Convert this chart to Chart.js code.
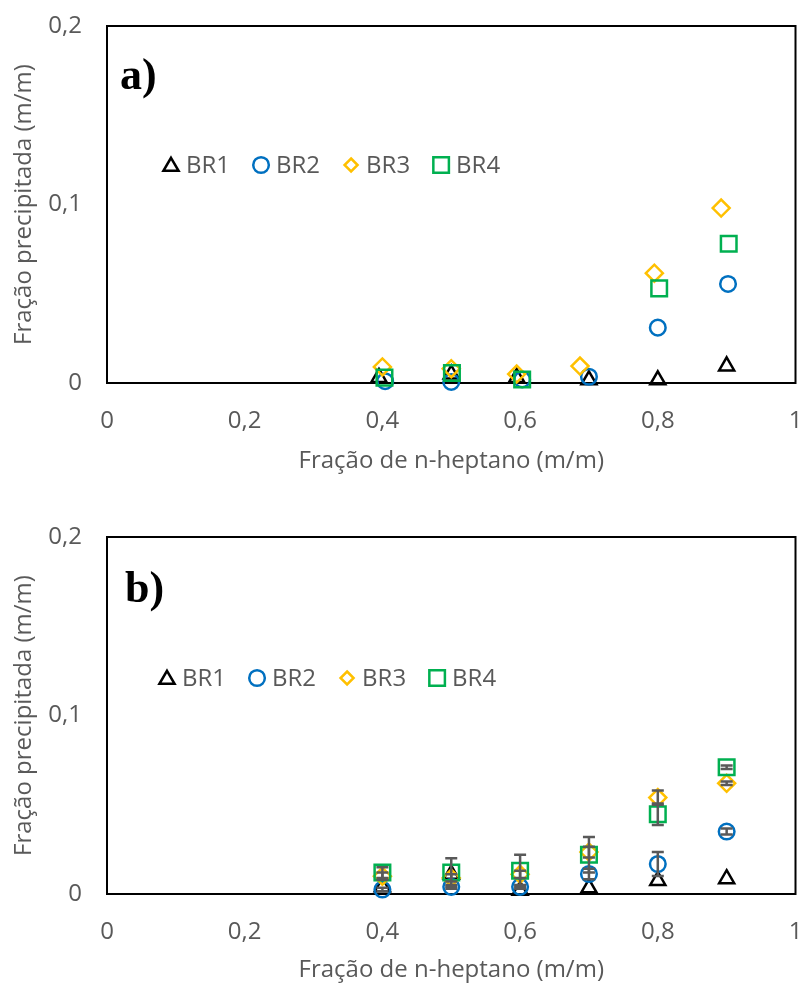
<!DOCTYPE html>
<html>
<head>
<meta charset="utf-8">
<script src="https://cdn.jsdelivr.net/npm/chart.js@4/dist/chart.umd.min.js"></script>
<style>
  html, body { margin: 0; padding: 0; background: #ffffff; }
  #wrap { position: relative; width: 809px; height: 985px; }
  .panel { position: absolute; left: 0; width: 809px; }
</style>
</head>
<body>
<div id="wrap">
  <div class="panel" style="top:0px;height:480px"><canvas id="chartA"></canvas></div>
  <div class="panel" style="top:490px;height:495px"><canvas id="chartB"></canvas></div>
</div>
<script>
// ---- data ----
const seriesNames = ['BR1', 'BR2', 'BR3', 'BR4'];
const xTickLabels = ['0', '0,2', '0,4', '0,6', '0,8', '1'];
const yTickLabels = ['0', '0,1', '0,2'];
const xTitle = 'Fração de n-heptano (m/m)';
const yTitle = 'Fração precipitada (m/m)';

// panel a) – single measurements
const aBR1x = [0.395, 0.5, 0.595, 0.7, 0.8, 0.9];
const aBR1y = [0.003, 0.005, 0.003, 0.0017, 0.0017, 0.0095];
const aBR2x = [0.404, 0.5, 0.603, 0.7, 0.8, 0.902];
const aBR2y = [0.001, 0.0006, 0.002, 0.0035, 0.031, 0.0555];
const aBR3x = [0.4, 0.5, 0.595, 0.687, 0.795, 0.892];
const aBR3y = [0.009, 0.008, 0.005, 0.0095, 0.0615, 0.098];
const aBR4x = [0.403, 0.501, 0.603, 0.802, 0.903];
const aBR4y = [0.003, 0.0056, 0.002, 0.053, 0.078];

// panel b) – averages with standard deviations
const bX = [0.4, 0.5, 0.6, 0.7, 0.8, 0.9];
const bBR1y = [0.004, 0.011, 0.002, 0.0034, 0.0075, 0.0085];
const bBR2y = [0.0025, 0.004, 0.004, 0.0112, 0.0168, 0.035];
const bBR3y = [0.010, 0.009, 0.011, 0.0235, 0.054, 0.062];
const bBR4y = [0.012, 0.012, 0.013, 0.022, 0.0447, 0.071];
const bBR1err = [0, 0, 0, 0, 0, 0];
const bBR2err = [0.001, 0.001, 0.001, 0.003, 0.0067, 0.0017];
const bBR3err = [0.002, 0.002, 0.002, 0.003, 0.004, 0.001];
const bBR4err = [0.003, 0.008, 0.009, 0.010, 0.006, 0.001];

// ---- styles ----
const markerStyles = [
  { color: '#000000', pointStyle: 'triangle', radius: 8.7 },
  { color: '#0070C0', pointStyle: 'circle',   radius: 7.8 },
  { color: '#FFC000', pointStyle: 'rectRot',  radius: 8.5 },
  { color: '#00B050', pointStyle: 'rect',     radius: 11 }
];
const textGray = '#595959';
const fontFamily = "'Open Sans', sans-serif";

Chart.defaults.font.family = fontFamily;
Chart.defaults.font.size = 24;
Chart.defaults.color = textGray;

function pairs(xs, ys) { return xs.map((x, i) => ({ x: x, y: ys[i] })); }

function makeDatasets(seriesData, seriesErr) {
  return seriesData.map((pts, i) => ({
    label: seriesNames[i],
    data: pts,
    errors: seriesErr ? seriesErr[i] : null,
    showLine: false,
    pointStyle: markerStyles[i].pointStyle,
    pointRadius: markerStyles[i].radius,
    pointHoverRadius: markerStyles[i].radius,
    pointBorderWidth: 2.5,
    pointBorderColor: markerStyles[i].color,
    pointBackgroundColor: 'rgba(0,0,0,0)',
    borderColor: markerStyles[i].color,
    backgroundColor: 'rgba(0,0,0,0)',
    order: 4 - i,
    clip: false
  }));
}

// plot frame on all four sides
const framePlugin = {
  id: 'frame',
  beforeDatasetsDraw(chart) {
    const { ctx, chartArea: a } = chart;
    ctx.save();
    ctx.strokeStyle = '#000000';
    ctx.lineWidth = 2;
    ctx.strokeRect(a.left, a.top, a.right - a.left, a.bottom - a.top);
    ctx.restore();
  }
};

// vertical error bars with caps
const errorBarPlugin = {
  id: 'errorBars',
  afterDatasetsDraw(chart) {
    const { ctx, scales } = chart;
    ctx.save();
    ctx.strokeStyle = '#595959';
    ctx.lineWidth = 2.5;
    chart.data.datasets.forEach((ds) => {
      if (!ds.errors) return;
      ds.data.forEach((p, i) => {
        const e = ds.errors[i];
        if (!e) return;
        const x = scales.x.getPixelForValue(p.x);
        const y1 = scales.y.getPixelForValue(p.y - e);
        const y2 = scales.y.getPixelForValue(p.y + e);
        const cap = 6;
        ctx.beginPath();
        ctx.moveTo(x, y1); ctx.lineTo(x, y2);
        ctx.moveTo(x - cap, y1); ctx.lineTo(x + cap, y1);
        ctx.moveTo(x - cap, y2); ctx.lineTo(x + cap, y2);
        ctx.stroke();
      });
    });
    ctx.restore();
  }
};

// in-plot legend row and panel letter
function drawMarker(ctx, style, x, y, r) {
  ctx.beginPath();
  if (style === 'triangle') {
    const h = r * 1.5;
    ctx.moveTo(x, y - h * 0.55);
    ctx.lineTo(x + r * 0.87, y + h * 0.45);
    ctx.lineTo(x - r * 0.87, y + h * 0.45);
    ctx.closePath();
  } else if (style === 'circle') {
    ctx.arc(x, y, r, 0, Math.PI * 2);
  } else if (style === 'rectRot') {
    ctx.moveTo(x, y - r); ctx.lineTo(x + r, y); ctx.lineTo(x, y + r); ctx.lineTo(x - r, y);
    ctx.closePath();
  } else {
    const s = r * Math.SQRT1_2;
    ctx.rect(x - s, y - s, 2 * s, 2 * s);
  }
  ctx.stroke();
}

const overlayPlugin = {
  id: 'overlay',
  afterDraw(chart, args, opts) {
    const { ctx } = chart;
    ctx.save();
    // panel letter
    ctx.fillStyle = '#000000';
    ctx.font = 'bold 44px "Liberation Serif", serif';
    ctx.textBaseline = 'alphabetic';
    ctx.textAlign = 'left';
    ctx.fillText(opts.letter, opts.letterX, opts.letterY);
    // legend
    ctx.font = '24px ' + fontFamily;
    ctx.textBaseline = 'middle';
    let x = opts.legendX;
    const y = opts.legendY;
    seriesNames.forEach((name, i) => {
      const st = markerStyles[i];
      ctx.strokeStyle = st.color;
      ctx.lineWidth = 2.5;
      const r = st.pointStyle === 'rectRot' ? 6.5 : st.radius;
      drawMarker(ctx, st.pointStyle, x, y, r);
      ctx.fillStyle = textGray;
      const tx = x + 15;
      ctx.fillText(name, tx, y + 1);
      x = tx + ctx.measureText(name).width + 31;
    });
    ctx.restore();
  }
};

// the plot box is set by layout padding alone, not by label overhang
function noOverhang(axis) {
  axis.paddingLeft = 0; axis.paddingRight = 0;
  axis.paddingTop = 0; axis.paddingBottom = 0;
}

function makeChart(id, datasets, cfg) {
  return new Chart(document.getElementById(id), {
    type: 'scatter',
    data: { datasets: datasets },
    plugins: [framePlugin, errorBarPlugin, overlayPlugin],
    options: {
      responsive: true,
      maintainAspectRatio: false,
      animation: false,
      events: [],
      layout: { padding: { top: cfg.top, right: 10, left: 0, bottom: 0 } },
      plugins: {
        legend: { display: false },
        tooltip: { enabled: false },
        overlay: cfg.overlay
      },
      scales: {
        x: {
          type: 'linear', min: 0, max: 1,
          grid: { display: false, drawTicks: false },
          border: { display: false },
          ticks: {
            stepSize: 0.2, padding: 24, maxRotation: 0,
            color: textGray, font: { size: 24 },
            callback: (v) => xTickLabels[Math.round(v / 0.2)]
          },
          title: {
            display: true, text: xTitle, color: textGray,
            font: { size: 24 }, padding: { top: 0, bottom: cfg.xTitlePad }
          },
          afterFit: (axis) => { axis.height = cfg.xAxisHeight; noOverhang(axis); }
        },
        y: {
          type: 'linear', min: 0, max: 0.2,
          grid: { display: false, drawTicks: false },
          border: { display: false },
          ticks: {
            stepSize: 0.1, padding: 25,
            color: textGray, font: { size: 24 },
            callback: (v) => yTickLabels[Math.round(v / 0.1)]
          },
          title: {
            display: true, text: yTitle, color: textGray,
            font: { size: 24 }, padding: { top: 10, bottom: 0 }
          },
          afterFit: (axis) => { axis.width = 107; noOverhang(axis); }
        }
      }
    }
  });
}

makeChart('chartA', makeDatasets([
  pairs(aBR1x, aBR1y), pairs(aBR2x, aBR2y), pairs(aBR3x, aBR3y), pairs(aBR4x, aBR4y)
], null), {
  top: 26, xAxisHeight: 97, xTitlePad: 4,
  overlay: { letter: 'a)', letterX: 120, letterY: 89, legendX: 171, legendY: 165 }
});

makeChart('chartB', makeDatasets([
  pairs(bX, bBR1y), pairs(bX, bBR2y), pairs(bX, bBR3y), pairs(bX, bBR4y)
], [bBR1err, bBR2err, bBR3err, bBR4err]), {
  top: 47, xAxisHeight: 91, xTitlePad: 0,
  overlay: { letter: 'b)', letterX: 125, letterY: 112, legendX: 167, legendY: 188 }
});
</script>
</body>
</html>
